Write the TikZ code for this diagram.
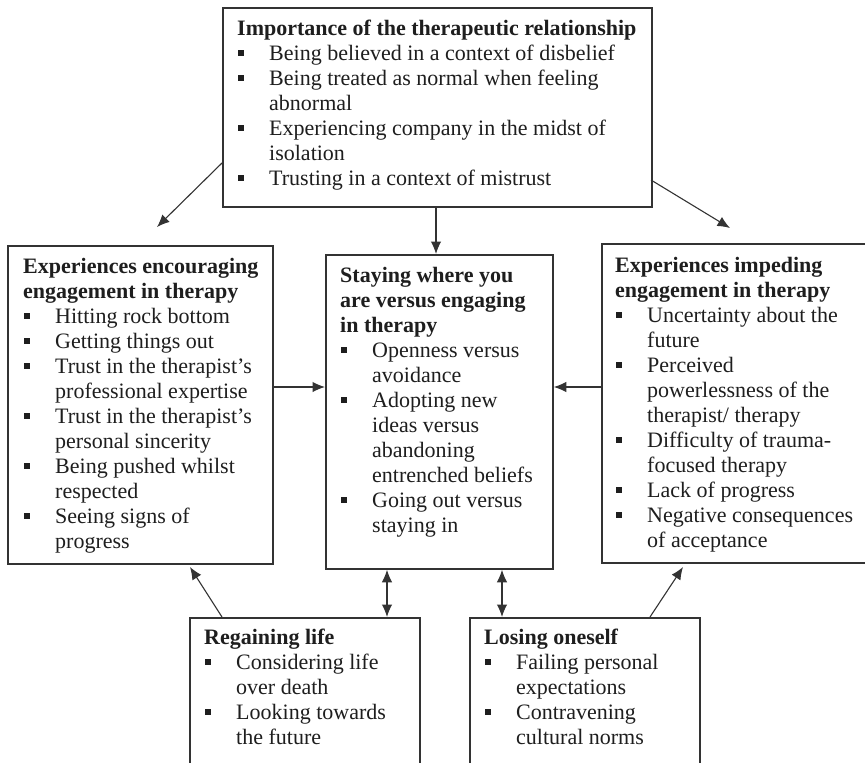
\documentclass[tikz,border=0pt]{standalone}
\usepackage{fontspec}
\setmainfont{Liberation Serif}
\usetikzlibrary{arrows.meta,calc}
\definecolor{ink}{HTML}{1E1E1E}
\definecolor{linec}{HTML}{333333}
\newcommand{\fsz}{\fontsize{22}{25}\selectfont}
\newcommand{\bl}{\makebox[32pt][l]{\hspace{1pt}\raisebox{4pt}{\rule{6pt}{6pt}}}}
\newcommand{\ct}{\hspace*{32pt}}
\newcommand{\boxtext}[1]{\parbox[t]{430pt}{\fsz #1}}
\begin{document}
\begin{tikzpicture}[x=1pt,y=-1pt,
  boxnode/.style={draw=linec, line width=1.8pt, inner sep=0pt, anchor=north west},
  txt/.style={anchor=base west, inner sep=0pt, text=ink},
  arr/.style={draw=linec, line width=1.1pt, -{Latex[length=12.5pt,width=10.5pt]}},
  darr/.style={draw=linec, line width=1.1pt, {Latex[length=12.5pt,width=10.5pt]}-{Latex[length=12.5pt,width=10.5pt]}}]
\useasboundingbox (0,0) rectangle (865,763);
\clip (0,0) rectangle (865,763);
\fill[white] (0,0) rectangle (865,763);
% boxes
\node[boxnode, minimum width=429pt, minimum height=199pt] (top) at (222,7) {};
\node[boxnode, minimum width=265pt, minimum height=318pt] (left) at (7,245) {};
\node[boxnode, minimum width=227pt, minimum height=314pt] (center) at (325,254) {};
\node[boxnode, minimum width=280pt, minimum height=319pt] (right) at (601,243) {};
\node[boxnode, minimum width=230pt, minimum height=170pt] (regain) at (189,617) {};
\node[boxnode, minimum width=230pt, minimum height=170pt] (losing) at (469,617) {};
% texts
\node[txt] (topt) at (237,35) {\boxtext{\textbf{Importance of the therapeutic relationship}\\
\bl Being believed in a context of disbelief\\
\bl Being treated as normal when feeling\\
\ct abnormal\\
\bl Experiencing company in the midst of\\
\ct isolation\\
\bl Trusting in a context of mistrust}};
\node[txt] (leftt) at (23,273) {\boxtext{\textbf{Experiences encouraging}\\
\textbf{engagement in therapy}\\
\bl Hitting rock bottom\\
\bl Getting things out\\
\bl Trust in the therapist’s\\
\ct professional expertise\\
\bl Trust in the therapist’s\\
\ct personal sincerity\\
\bl Being pushed whilst\\
\ct respected\\
\bl Seeing signs of\\
\ct progress}};
\node[txt] (centert) at (340,282) {\boxtext{\textbf{Staying where you}\\
\textbf{are versus engaging}\\
\textbf{in therapy}\\
\bl Openness versus\\
\ct avoidance\\
\bl Adopting new\\
\ct ideas versus\\
\ct abandoning\\
\ct entrenched beliefs\\
\bl Going out versus\\
\ct staying in}};
\node[txt] (rightt) at (615,272) {\boxtext{\textbf{Experiences impeding}\\
\textbf{engagement in therapy}\\
\bl Uncertainty about the\\
\ct future\\
\bl Perceived\\
\ct powerlessness of the\\
\ct therapist/ therapy\\
\bl Difficulty of trauma-\\
\ct focused therapy\\
\bl Lack of progress\\
\bl Negative consequences\\
\ct of acceptance}};
\node[txt] (regaint) at (204,644) {\boxtext{\textbf{Regaining life}\\
\bl Considering life\\
\ct over death\\
\bl Looking towards\\
\ct the future}};
\node[txt] (losingt) at (484,644) {\boxtext{\textbf{Losing oneself}\\
\bl Failing personal\\
\ct expectations\\
\bl Contravening\\
\ct cultural norms}};
% connector helper coordinates
\coordinate (midy) at (0,387);
\coordinate (topx) at (436,0);
\coordinate (dxa) at (387,0);
\coordinate (dxb) at (502,0);
\coordinate (s1) at (222,163);
\coordinate (e1) at (157,227);
\coordinate (s2) at (651,180);
\coordinate (e2) at (730,228);
\coordinate (s3) at (222,617);
\coordinate (e3) at (190,567);
\coordinate (s4) at (650,617);
\coordinate (e4) at (683,567);
% connectors
\draw[arr] (top.south -| topx) -- (center.north -| topx);
\draw[arr] (left.east |- midy) -- (center.west |- midy);
\draw[arr] (right.west |- midy) -- (center.east |- midy);
\draw[darr] (center.south -| dxa) -- (regain.north -| dxa);
\draw[darr] (center.south -| dxb) -- (losing.north -| dxb);
\draw[arr] (s1) -- (e1);
\draw[arr] (s2) -- (e2);
\draw[arr] (s3) -- (e3);
\draw[arr] (s4) -- (e4);
\end{tikzpicture}
\end{document}
